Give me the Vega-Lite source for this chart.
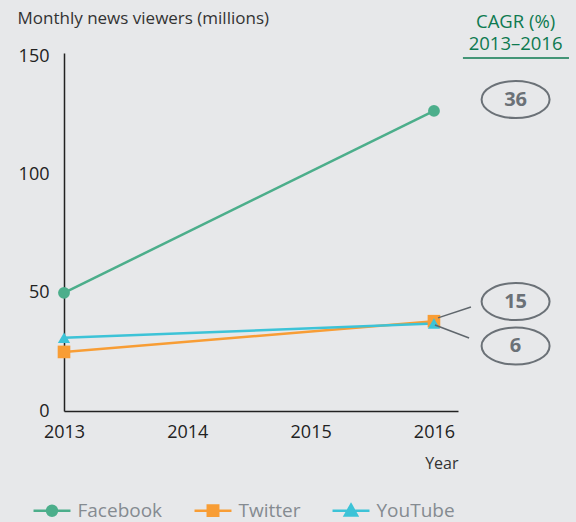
{
  "$schema": "https://vega.github.io/schema/vega-lite/v6.json",
  "width": 394,
  "height": 358,
  "autosize": "none",
  "padding": {"left": 64, "top": 53, "right": 118, "bottom": 111},
  "background": "#e7e8ea",
  "config": {
    "view": {"stroke": null},
    "font": "Open Sans",
    "axis": {"grid": false, "ticks": false, "domainColor": "#222222", "domainWidth": 1.5, "labelColor": "#222222", "labelFontSize": 18, "titleColor": "#333333", "titleFontWeight": "normal", "titleFontSize": 16},
    "legend": {"orient": "none", "direction": "horizontal", "legendX": -21.5, "legendY": 448, "title": null, "labelFontSize": 19, "labelColor": "#858b91", "labelOffset": 16, "columnPadding": 27, "symbolSize": 121, "symbolStrokeWidth": 2.5, "symbolOpacity": 1}
  },
  "datasets": {
    "series": [
      {"year": 2013, "value": 50, "series": "Facebook"},
      {"year": 2016, "value": 127, "series": "Facebook"},
      {"year": 2013, "value": 25, "series": "Twitter"},
      {"year": 2016, "value": 38, "series": "Twitter"},
      {"year": 2013, "value": 31, "series": "YouTube"},
      {"year": 2016, "value": 37, "series": "YouTube"}
    ],
    "notes": [
      {"kind": "header", "year": 2016.662, "value": 164.8, "label": "CAGR (%)"},
      {"kind": "header", "year": 2016.662, "value": 155.3, "label": "2013–2016"},
      {"kind": "cagr", "year": 2016.662, "value": 131.8, "label": "36"},
      {"kind": "cagr", "year": 2016.662, "value": 46.3, "label": "15"},
      {"kind": "cagr", "year": 2016.662, "value": 27.5, "label": "6"}
    ],
    "rules": [
      {"kind": "underline", "year": 2016.235, "year2": 2017.095, "value": 149.4, "value2": 149.4},
      {"kind": "leader", "year": 2016.30, "year2": 2016.033, "value": 44.0, "value2": 39.4},
      {"kind": "leader", "year": 2016.285, "year2": 2016.008, "value": 30.9, "value2": 36.4}
    ]
  },
  "layer": [
    {
      "data": {"name": "series"},
      "transform": [{"filter": "datum.year < 0"}],
      "mark": {"type": "point", "filled": true, "opacity": 1},
      "encoding": {
        "x": {"field": "year", "type": "quantitative", "scale": {"domain": [2013, 2016.195], "nice": false, "zero": false},
              "axis": {"values": [2013, 2014, 2015, 2016], "format": "d", "labelPadding": 12, "title": "Year", "titleX": 394, "titleY": 52, "titleAlign": "right", "titleBaseline": "middle", "labelFlush": false}},
        "y": {"field": "value", "type": "quantitative", "scale": {"domain": [0, 151.5], "nice": false},
              "axis": {"values": [0, 50, 100, 150], "labelPadding": 15, "title": "Monthly news viewers (millions)", "titleFontSize": 17, "titleAngle": 0, "titleAlign": "left", "titleBaseline": "middle", "titleX": -47, "titleY": -35}},
        "color": {"field": "series", "type": "nominal", "scale": {"domain": ["Facebook", "Twitter", "YouTube"], "range": ["#4cae8b", "#f89d35", "#3dc3d7"]}},
        "stroke": {"field": "series", "type": "nominal", "scale": {"domain": ["Facebook", "Twitter", "YouTube"], "range": ["#4cae8b", "#f89d35", "#3dc3d7"]}},
        "shape": {"field": "series", "type": "nominal", "scale": {"domain": ["Facebook", "Twitter", "YouTube"], "range": [
          "M-3.36,0L3.36,0M0.9,0A0.9,0.9 0 1,1 -0.9,0A0.9,0.9 0 1,1 0.9,0Z",
          "M-3.36,0L3.36,0M-0.95,-0.95L0.95,-0.95L0.95,0.95L-0.95,0.95Z",
          "M-3.36,0L3.36,0M0,-1.1L1.1,0.85L-1.1,0.85Z"]}}
      }
    },
    {
      "data": {"name": "series"},
      "mark": {"type": "line", "strokeWidth": 2.5},
      "encoding": {
        "x": {"field": "year", "type": "quantitative"},
        "y": {"field": "value", "type": "quantitative"},
        "color": {"field": "series", "type": "nominal"}
      }
    },
    {
      "data": {"name": "series"},
      "transform": [{"filter": "datum.series === 'Facebook'"}],
      "mark": {"type": "point", "shape": "circle", "filled": true, "size": 140, "opacity": 1},
      "encoding": {
        "x": {"field": "year", "type": "quantitative"},
        "y": {"field": "value", "type": "quantitative"},
        "color": {"field": "series", "type": "nominal"}
      }
    },
    {
      "data": {"name": "series"},
      "transform": [{"filter": "datum.series === 'Twitter'"}],
      "mark": {"type": "point", "shape": "square", "filled": true, "size": 160, "opacity": 1},
      "encoding": {
        "x": {"field": "year", "type": "quantitative"},
        "y": {"field": "value", "type": "quantitative"},
        "color": {"field": "series", "type": "nominal"}
      }
    },
    {
      "data": {"name": "series"},
      "transform": [{"filter": "datum.series === 'YouTube'"}],
      "mark": {"type": "point", "shape": "triangle-up", "filled": true, "size": 150, "opacity": 1},
      "encoding": {
        "x": {"field": "year", "type": "quantitative"},
        "y": {"field": "value", "type": "quantitative"},
        "color": {"field": "series", "type": "nominal"}
      }
    },
    {
      "data": {"name": "rules"},
      "mark": {"type": "rule", "strokeWidth": 1.5},
      "encoding": {
        "x": {"field": "year", "type": "quantitative"},
        "x2": {"field": "year2"},
        "y": {"field": "value", "type": "quantitative"},
        "y2": {"field": "value2"},
        "color": {"condition": {"test": "datum.kind === 'underline'", "value": "#0e7a50"}, "value": "#5f666c"}
      }
    },
    {
      "data": {"name": "notes"},
      "transform": [{"filter": "datum.kind === 'cagr'"}],
      "mark": {"type": "point", "shape": "M-1,0A1,0.544 0 1,0 1,0A1,0.544 0 1,0 -1,0Z", "size": 4624, "filled": false, "stroke": "#6b7177", "strokeWidth": 2, "opacity": 1},
      "encoding": {
        "x": {"field": "year", "type": "quantitative"},
        "y": {"field": "value", "type": "quantitative"}
      }
    },
    {
      "data": {"name": "notes"},
      "transform": [{"filter": "datum.kind === 'cagr'"}],
      "mark": {"type": "text", "fontSize": 20, "fontWeight": "bold", "color": "#6b7177", "baseline": "middle", "align": "center"},
      "encoding": {
        "x": {"field": "year", "type": "quantitative"},
        "y": {"field": "value", "type": "quantitative"},
        "text": {"field": "label"}
      }
    },
    {
      "data": {"name": "notes"},
      "transform": [{"filter": "datum.kind === 'header'"}],
      "mark": {"type": "text", "fontSize": 18.5, "color": "#0e7a50", "baseline": "middle", "align": "center"},
      "encoding": {
        "x": {"field": "year", "type": "quantitative"},
        "y": {"field": "value", "type": "quantitative"},
        "text": {"field": "label"}
      }
    }
  ]
}
